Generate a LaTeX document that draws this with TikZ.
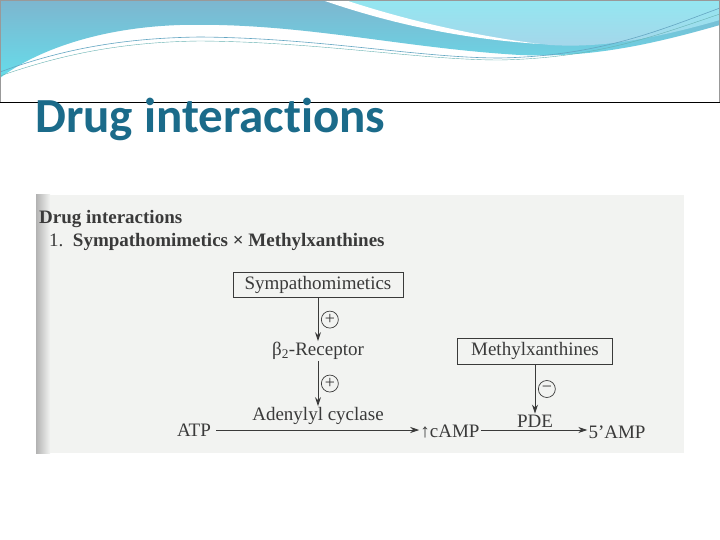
\documentclass[tikz,border=0pt]{standalone}
\usepackage{fontspec}
\setmainfont{Liberation Serif}
\newfontfamily\titlefont[Ligatures=NoCommon]{Carlito}
\usetikzlibrary{arrows.meta}
\definecolor{titleblue}{HTML}{1B6B8A}
\definecolor{scanbg}{HTML}{F2F3F1}
\definecolor{ink}{HTML}{3A3A3A}
\definecolor{wavetop}{HTML}{7DB6CF}
\definecolor{wavebot}{HTML}{66DCEA}
\definecolor{waveright}{HTML}{A5D6EA}
\tikzset{
  lbl/.style={inner sep=1pt, text=ink, font=\fontsize{19}{21}\selectfont},
  boxed/.style={lbl, draw=ink, line width=0.9pt, inner xsep=8pt, inner ysep=4pt},
  arr/.style={draw=ink, line width=1pt, -{Stealth[length=9pt,width=6pt]}},
  sign/.style={circle, draw=ink, line width=0.7pt, inner sep=0pt, minimum size=17pt, text=ink, font=\fontsize{18}{18}\selectfont}
}
\begin{document}
\begin{tikzpicture}[x=1pt,y=-1pt]
\useasboundingbox (0,0) rectangle (720,540);
\fill[white] (0,0) rectangle (720,540);
% header waves
\shade[top color=wavetop, bottom color=wavebot]
 (0,0) -- (720,0) -- (720,25) .. controls (650,45) and (590,58) .. (520,55)
 .. controls (400,48) and (300,22) .. (180,25) .. controls (90,28) and (30,55) .. (0,78) -- cycle;
\shade[top color=wavebot!70!white, bottom color=waveright] (330,0) -- (720,0) -- (720,20) .. controls (650,40) and (600,48) .. (550,45) .. controls (450,35) and (380,15) .. cycle;
\fill[white] (322,0) .. controls (380,20) and (450,38) .. (540,44) .. controls (460,34) and (390,15) .. (345,0) -- cycle;
\draw[cyan!50!gray, line width=0.6pt] (0,72) .. controls (60,50) and (120,38) .. (200,37) .. controls (320,38) and (420,58) .. (500,58) .. controls (600,56) and (660,30) .. (720,8);
\draw[teal!60, line width=0.4pt] (0,76) .. controls (60,55) and (120,42) .. (200,41) .. controls (320,42) and (420,60) .. (500,60) .. controls (600,58) and (660,34) .. (720,14);
\draw[gray!80, line width=0.5pt] (0.5,102) -- (0.5,0.5) -- (719.5,0.5) -- (719.5,102);
\draw[black, line width=0.8pt] (0,102) -- (720,102);
\node[anchor=base west, inner sep=0, text=titleblue, font=\titlefont\bfseries\fontsize{49}{54}\selectfont] (title) at (35,133) {Drug interactions};
% scanned figure
\fill[scanbg] (36,195) rectangle (684,453);
\shade[left color=gray!60, right color=scanbg] (36,195) rectangle (50,453);
\node[anchor=base west, lbl, font=\bfseries\fontsize{19}{21}\selectfont] (hd) at (38,224) {Drug interactions};
\node[anchor=base west, lbl, font=\fontsize{19}{21}\selectfont] (it) at (48,246) {1.\ \ \textbf{Sympathomimetics × Methylxanthines}};
\node[boxed, minimum width=170pt, minimum height=25pt] (sym) at (318,285) {Sympathomimetics};
\node[lbl] (beta) at (318,351) {β\textsubscript{2}-Receptor};
\node[lbl] (ac) at (318,416) {Adenylyl cyclase};
\node[lbl] (atp) at (194,430) {ATP};
\node[lbl] (camp) at (450,432) {↑cAMP};
\node[lbl] (pde) at (535,421) {PDE};
\node[lbl] (amp) at (617,432) {5'AMP};
\node[boxed, minimum width=155pt, minimum height=26pt] (mx) at (535,351) {Methylxanthines};
\draw[arr] (sym) -- (beta) node[midway, right=3pt, sign] (p1) {+};
\draw[arr] (beta) -- (ac) node[midway, right=3pt, sign] (p2) {+};
\draw[arr] (mx) -- (pde) node[midway, right=3pt, sign] (m1) {−};
\draw[arr] (atp.east) ++(4,0) coordinate (a0) (a0) -- (camp.west |- a0);
\draw[arr] (camp.east |- a0) -- (amp.west |- a0);
\end{tikzpicture}
\end{document}
